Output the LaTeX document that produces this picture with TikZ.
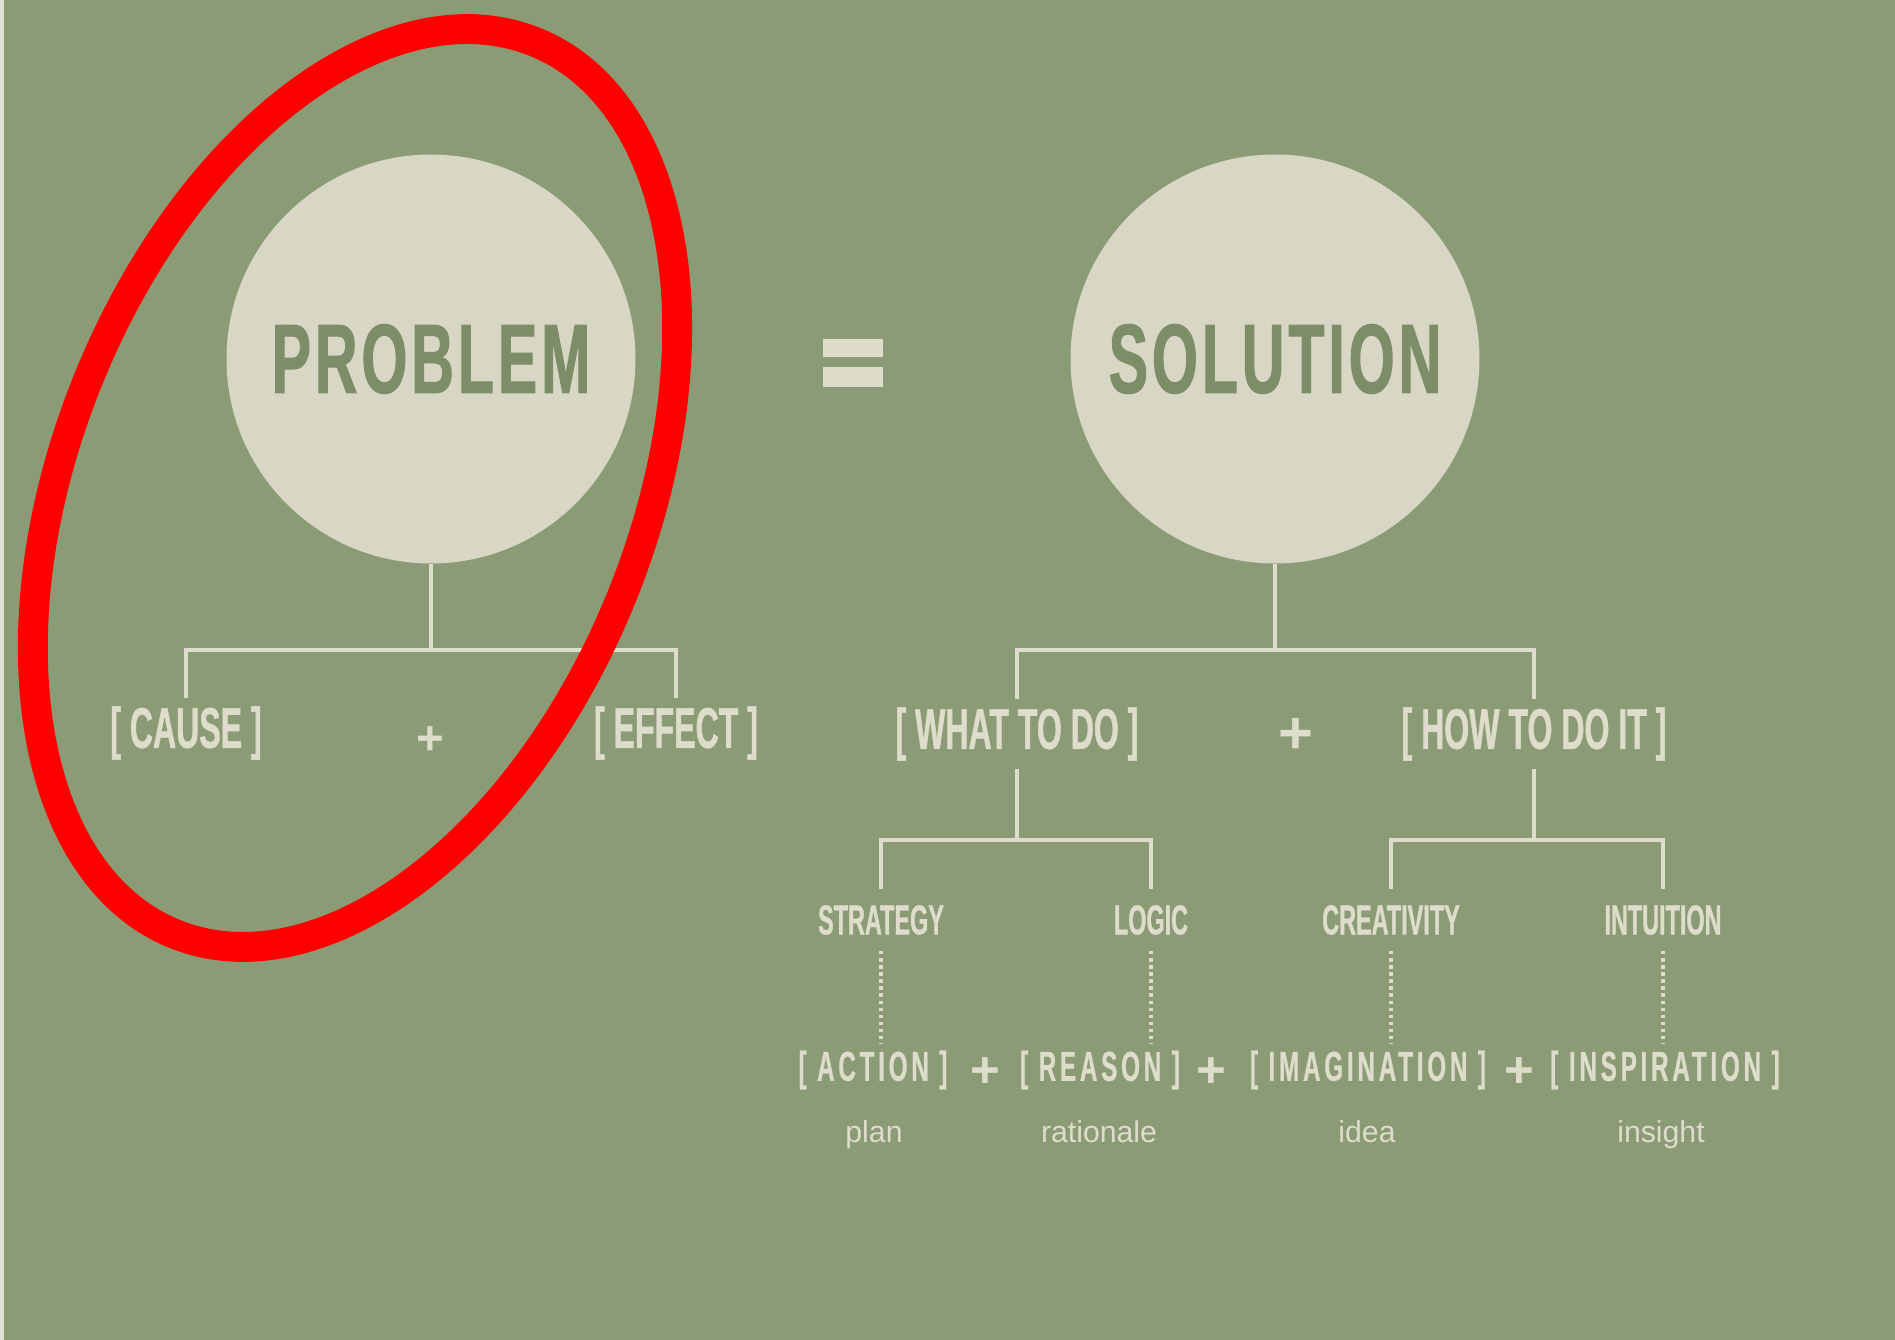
\documentclass[tikz,border=0pt]{standalone}
\usepackage{fontspec}
\usepackage{xcolor}
\usepackage{tikz}
\usetikzlibrary{shapes.geometric,positioning,calc}
\setmainfont{Liberation Sans}
\newfontfamily\grungefont[FakeStretch=0.56,FakeBold=0.8]{Liberation Sans}
\newfontfamily\titlefont[FakeStretch=0.60,LetterSpace=4,FakeBold=1]{Liberation Sans}
\newfontfamily\spacedfont[FakeStretch=0.58,LetterSpace=9,FakeBold=0.6]{Liberation Sans}
\definecolor{boardgreen} {RGB}{138,155,118}
\definecolor{chalkcream} {RGB}{222,220,202}
\definecolor{discfill}   {RGB}{216,214,196}
\definecolor{titlegreen} {RGB}{124,141,104}
\definecolor{markred}    {RGB}{255,0,0}

\begin{document}
\begin{tikzpicture}[
      every node/.style={align=center, text=chalkcream},
      disc/.style={circle, fill=discfill, minimum size=4.09cm, inner sep=0pt,
        text=titlegreen, font=\titlefont\bfseries\fontsize{28}{28}\selectfont},
      branch/.style={font=\grungefont\bfseries\fontsize{16.3}{16.3}\selectfont, inner sep=2.2pt},
      leaf/.style={font=\grungefont\bfseries\fontsize{11.9}{11.9}\selectfont, inner sep=4.5pt},
      term/.style={font=\spacedfont\bfseries\fontsize{11.9}{11.9}\selectfont, inner sep=2pt},
      plus/.style={font=\bfseries\fontsize{#1}{#1}\selectfont, inner sep=0pt},
      note/.style={font=\fontsize{8.6}{8.6}\selectfont, anchor=base},
      tree/.style={draw=chalkcream, line width=1.1pt},
      dotlink/.style={draw=chalkcream, line width=1.1pt, dash pattern=on 0.9pt off 1.1pt},
      ringmark/.style={ellipse, draw=markred, line width=8.5pt, inner sep=0pt,
        minimum width=5.76cm, minimum height=9.62cm, rotate=-22},
    ]

    % ── Board ───────────────────────────────────────────────────
    \fill[boardgreen] (0,0) rectangle (18.95,-13.40);
    \useasboundingbox (0,0) rectangle (18.95,-13.40);
    \draw[chalkcream!80, line width=0.9pt] (0.02,0) -- (0.02,-13.40);

    % ── PROBLEM ─────────────────────────────────────────────────
    \node[disc] (prob) at (4.31,-3.59) {PROBLEM};

    \node[branch] (cause)  at (1.86,-7.33) {[ CAUSE ]};
    \node[plus=13.5] (pplus) at (4.30,-7.41) {+};
    \node[branch] (effect) at (6.76,-7.33) {[ EFFECT ]};

    \coordinate[below=0.86cm of prob.south] (probfork);
    \draw[tree] (prob.south) -- (probfork);
    \draw[tree] (cause.north) |- (probfork) -| (effect.north);

    % ── = ───────────────────────────────────────────────────────
    \fill[chalkcream] (8.23,-3.39) rectangle (8.83,-3.57);
    \fill[chalkcream] (8.23,-3.67) rectangle (8.83,-3.87);

    % ── SOLUTION ────────────────────────────────────────────────
    \node[disc] (sol) at (12.75,-3.59) {SOLUTION};

    \node[branch] (what) at (10.17,-7.34) {[ WHAT TO DO ]};
    \node[plus=17] (splus) at (12.96,-7.36) {+};
    \node[branch] (how)  at (15.34,-7.34) {[ HOW TO DO IT ]};

    \coordinate[below=0.86cm of sol.south] (solfork);
    \draw[tree] (sol.south) -- (solfork);
    \draw[tree] (what.north) |- (solfork) -| (how.north);

    % ── second level ────────────────────────────────────────────
    \node[leaf] (strategy)   at (8.81,-9.20)  {STRATEGY};
    \node[leaf] (logic)      at (11.51,-9.20) {LOGIC};
    \node[leaf] (creativity) at (13.91,-9.20) {CREATIVITY};
    \node[leaf] (intuition)  at (16.63,-9.20) {INTUITION};

    \coordinate[below=0.71cm of what.south] (whatfork);
    \coordinate[below=0.71cm of how.south] (howfork);
    \draw[tree] (what.south) -- (whatfork);
    \draw[tree] (strategy.north) |- (whatfork) -| (logic.north);
    \draw[tree] (how.south) -- (howfork);
    \draw[tree] (creativity.north) |- (howfork) -| (intuition.north);

    % ── bottom row ──────────────────────────────────────────────
    \node[term] (action)      at (8.73,-10.70)  {[ ACTION ]};
    \node[plus=14.5] (plus1)  at (9.85,-10.73)  {+};
    \node[term] (reason)      at (11.00,-10.70) {[ REASON ]};
    \node[plus=14.5] (plus2)  at (12.11,-10.73) {+};
    \node[term] (imagination) at (13.68,-10.70) {[ IMAGINATION ]};
    \node[plus=14.5] (plus3)  at (15.19,-10.73) {+};
    \node[term] (inspiration) at (16.65,-10.70) {[ INSPIRATION ]};

    \draw[dotlink] (strategy.south)   -- (strategy.south |- action.north);
    \draw[dotlink] (logic.south)      -- (logic.south |- reason.north);
    \draw[dotlink] (creativity.south) -- (creativity.south |- imagination.north);
    \draw[dotlink] (intuition.south)  -- (intuition.south |- inspiration.north);

    \node[note] (plan)      at (8.74,-11.43)  {plan};
    \node[note] (rationale) at (10.99,-11.43) {rationale};
    \node[note] (idea)      at (13.67,-11.43) {idea};
    \node[note] (insight)   at (16.61,-11.43) {insight};

    % ── highlight ───────────────────────────────────────────────
    \node[ringmark] (ring) at (3.55,-4.88) {};

    \end{tikzpicture}
\end{document}
